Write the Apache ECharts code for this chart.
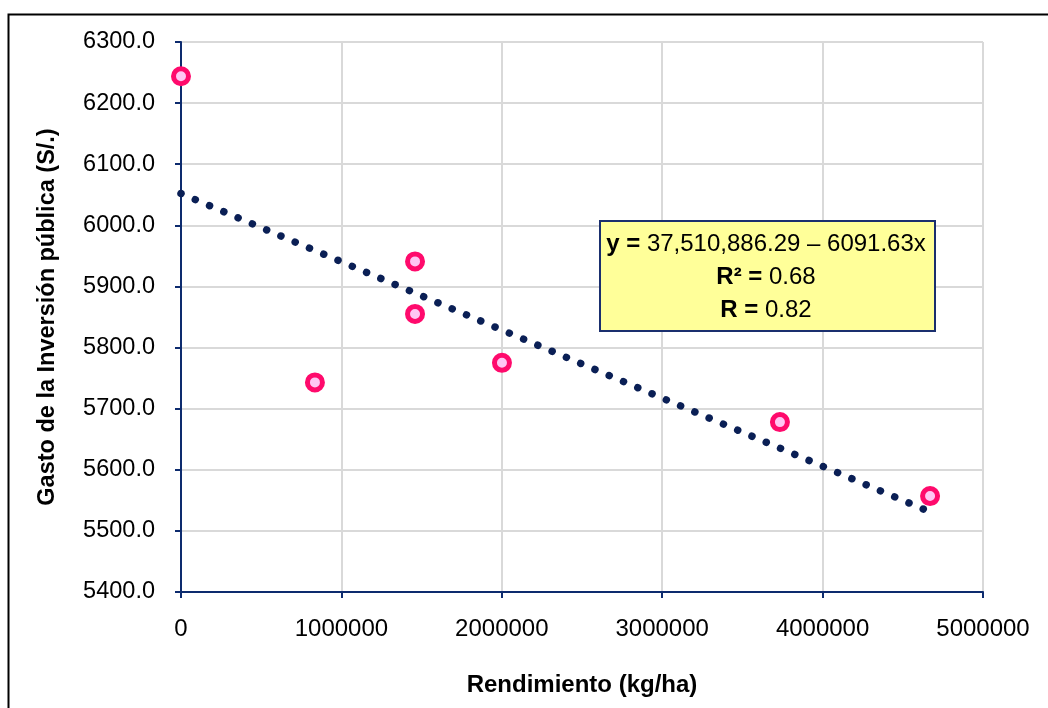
<!DOCTYPE html>
<html>
<head>
<meta charset="utf-8">
<script src="https://cdn.jsdelivr.net/npm/echarts@6/dist/echarts.min.js"></script>
<style>
html,body{margin:0;padding:0;background:#fff;}
#chart{width:1048px;height:708px;}
</style>
</head>
<body>
<div id="chart"></div>
<script>
// Data
const rendimiento = [0, 835000, 1459000, 1459000, 2001000, 3734000, 4670000];
const gasto = [6244, 5743, 5941, 5855, 5775, 5678, 5557];
// Linear trend line end points (as drawn in the reference)
const trendX = [0, 4670000];
const trendY = [6052, 5531];
// Axis settings
const xTicks = [0, 1000000, 2000000, 3000000, 4000000, 5000000];
const yTicks = [5400, 5500, 5600, 5700, 5800, 5900, 6000, 6100, 6200, 6300];
const xTitle = 'Rendimiento (kg/ha)';
const yTitle = 'Gasto de la Inversión pública (S/.)';
const eqLines = [['y =', ' 37,510,886.29 – 6091.63x'], ['R² =', ' 0.68'], ['R =', ' 0.82']];

const FONT = "'Liberation Sans', Arial, sans-serif";
const AXIS_COLOR = '#0d2b6e';
const GRID_COLOR = '#d9d9d9';

const chart = echarts.init(document.getElementById('chart'), null, {renderer: 'canvas'});

const scatterData = rendimiento.map((x, i) => [x, gasto[i]]);
const trendData = trendX.map((x, i) => [x, trendY[i]]);

const eqText = eqLines.map(l => '{b|' + l[0] + '}{n|' + l[1] + '}').join('\n');

chart.setOption({
  backgroundColor: '#ffffff',
  animation: false,
  grid: {left: 181, right: 65, top: 42, bottom: 116, containLabel: false},
  xAxis: {
    type: 'value',
    min: xTicks[0], max: xTicks[xTicks.length - 1], interval: 1000000,
    name: xTitle, nameLocation: 'middle', nameGap: 81,
    nameTextStyle: {fontFamily: FONT, fontWeight: 'bold', fontSize: 24, color: '#000'},
    axisLine: {show: true, onZero: false, lineStyle: {color: AXIS_COLOR, width: 2}},
    axisTick: {show: true, inside: false, length: 6, lineStyle: {color: AXIS_COLOR, width: 2}},
    axisLabel: {fontFamily: FONT, fontSize: 24, color: '#000', margin: 25,
      formatter: v => String(v)},
    splitLine: {show: true, lineStyle: {color: GRID_COLOR, width: 2}}
  },
  yAxis: {
    type: 'value',
    min: yTicks[0], max: yTicks[yTicks.length - 1], interval: 100,
    name: yTitle, nameLocation: 'middle', nameGap: 121,
    nameTextStyle: {fontFamily: FONT, fontWeight: 'bold', fontSize: 23.5, color: '#000'},
    axisLine: {show: true, onZero: false, lineStyle: {color: AXIS_COLOR, width: 2}},
    axisTick: {show: true, inside: false, length: 6, lineStyle: {color: AXIS_COLOR, width: 2}},
    axisLabel: {fontFamily: FONT, fontSize: 23.5, color: '#000', margin: 26,
      formatter: v => v.toFixed(1)},
    splitLine: {show: true, lineStyle: {color: GRID_COLOR, width: 2}}
  },
  series: [
    {
      type: 'line',
      data: trendData,
      showSymbol: false,
      symbol: 'none',
      z: 2,
      lineStyle: {color: '#0a1f55', width: 7.5, type: [0.01, 15.5], cap: 'round'}
    },
    {
      type: 'scatter',
      data: scatterData,
      symbol: 'circle',
      symbolSize: 15,
      z: 3,
      itemStyle: {color: '#ffc6f3', borderColor: '#ff0a6c', borderWidth: 5, opacity: 1}
    }
  ],
  graphic: [
    {
      type: 'rect',
      left: 6, top: 12, silent: true, z: 100,
      shape: {width: 1100, height: 800},
      style: {fill: 'none', stroke: '#000', lineWidth: 2}
    },
    {
      type: 'rect',
      left: 599, top: 220, z: 50,
      shape: {width: 335, height: 110},
      style: {fill: '#ffff99', stroke: '#1a2f6e', lineWidth: 2}
    },
    {
      type: 'text',
      x: 766, y: 228, z: 51,
      style: {
        text: eqText,
        align: 'center',
        verticalAlign: 'top',
        fill: '#000',
        fontFamily: FONT,
        fontSize: 24,
        lineHeight: 33,
        rich: {
          b: {fontFamily: FONT, fontSize: 24, fontWeight: 'bold', lineHeight: 33},
          n: {fontFamily: FONT, fontSize: 24, lineHeight: 33}
        }
      }
    }
  ]
});
</script>
</body>
</html>
